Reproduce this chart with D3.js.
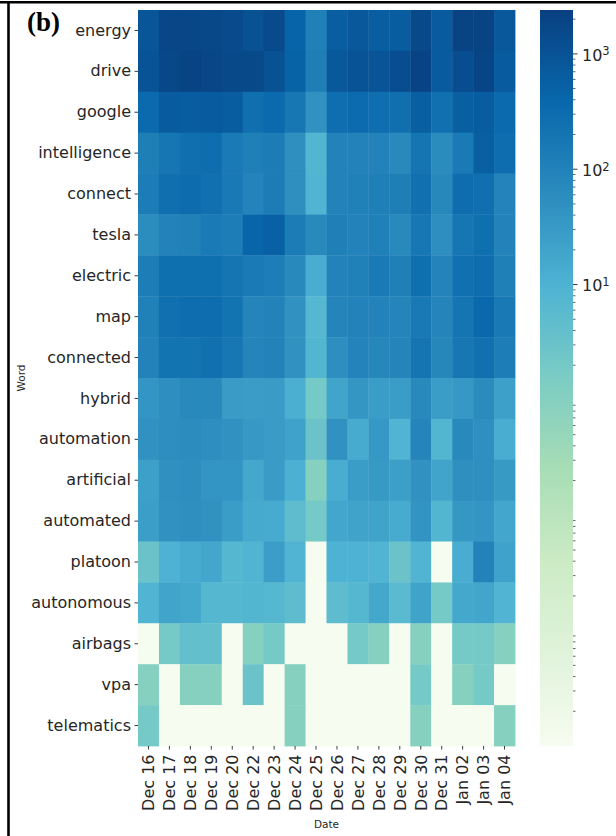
<!DOCTYPE html>
<html>
<head>
<meta charset="utf-8">
<script src="https://cdn.jsdelivr.net/npm/d3@7.9.0/dist/d3.min.js"></script>
<style>
  body { margin: 0; background: #fff; }
  svg { display: block; font-family: "DejaVu Sans", sans-serif; }
</style>
</head>
<body>
<div id="chart"></div>
<script>
// === Data ===
const words = ["energy", "drive", "google", "intelligence", "connect", "tesla", "electric", "map",
    "connected", "hybrid", "automation", "artificial", "automated", "platoon", "autonomous",
    "airbags", "vpa", "telematics"];

const dates = ["Dec 16", "Dec 17", "Dec 18", "Dec 19", "Dec 20", "Dec 22", "Dec 23", "Dec 24", "Dec 25",
    "Dec 26", "Dec 27", "Dec 28", "Dec 29", "Dec 30", "Dec 31", "Jan 02", "Jan 03", "Jan 04"];

// one row per word, one value per date
const counts = [
    [900, 1800, 1800, 1700, 1500, 1100, 1500, 450, 110, 600, 800, 600, 650, 1600, 700, 2100, 2100, 800],
    [1000, 1700, 2100, 1800, 1600, 1600, 1100, 500, 120, 800, 1000, 950, 1300, 2000, 700, 1300, 1900, 700],
    [350, 700, 650, 700, 650, 270, 350, 180, 45, 280, 320, 280, 270, 550, 250, 550, 650, 340],
    [120, 190, 270, 300, 150, 115, 140, 50, 8, 100, 100, 100, 70, 200, 65, 150, 550, 290],
    [140, 270, 310, 250, 160, 95, 135, 50, 9, 100, 110, 115, 120, 250, 75, 300, 270, 95],
    [60, 100, 110, 150, 125, 430, 520, 140, 70, 115, 100, 110, 70, 175, 55, 190, 260, 100],
    [125, 260, 260, 260, 200, 150, 130, 70, 13, 100, 110, 150, 115, 260, 95, 250, 300, 115],
    [110, 250, 300, 300, 210, 85, 100, 45, 7, 85, 100, 100, 85, 160, 85, 200, 370, 160],
    [100, 210, 210, 250, 180, 85, 100, 45, 8, 55, 95, 80, 85, 200, 80, 180, 250, 130],
    [40, 55, 70, 70, 30, 28, 30, 12, 2, 19, 38, 28, 28, 70, 28, 35, 65, 24],
    [45, 55, 60, 55, 45, 35, 30, 22, 3, 45, 14, 35, 9, 85, 8, 70, 52, 13],
    [24, 48, 55, 40, 40, 16, 30, 11, 1, 13, 28, 32, 25, 45, 20, 50, 52, 32],
    [26, 45, 50, 45, 28, 15, 14, 5, 2, 17, 21, 21, 14, 42, 8, 36, 40, 17],
    [3, 10, 14, 17, 7, 9, 26, 9, 0, 10, 10, 9, 3, 9, 0, 13, 100, 22],
    [9, 20, 16, 7, 7, 8, 7, 5, 0, 5, 7, 16, 6, 21, 2, 16, 18, 9],
    [0, 2, 4, 4, 0, 1, 2, 0, 0, 0, 2, 1, 0, 1, 0, 2, 2, 1],
    [1, 0, 1, 1, 0, 3, 0, 1, 0, 0, 0, 0, 0, 2, 0, 1, 2, 0],
    [2, 0, 0, 0, 0, 0, 0, 1, 0, 0, 0, 0, 0, 1, 0, 0, 0, 1]
];

// colour bar range and labelled ticks
const colorMin = 0.001;
const colorMax = 2400;
const colorTicks = [10, 100, 1000];

// GnBu stops (same as matplotlib)
const gnbu = ["#f7fcf0", "#e0f3db", "#ccebc5", "#a8ddb5", "#7bccc4", "#4eb3d3", "#2b8cbe", "#0868ac", "#084081"];

// === Layout ===
const W = 616, H = 836;
const hm = { left: 138, top: 10, right: 515, bottom: 746 };
const cb = { left: 540, right: 573 };
const textColor = "#262626";
const fontFamily = "'DejaVu Sans', sans-serif";
const tickFont = 16;

const svg = d3.select("#chart").append("svg")
    .attr("width", W)
    .attr("height", H);

// === Scales ===
const x = d3.scaleBand().domain(dates).range([hm.left, hm.right]);
const y = d3.scaleBand().domain(words).range([hm.top, hm.bottom]);

const norm = d3.scaleLog().domain([colorMin, colorMax]).range([0, 1]).clamp(true);
const cmap = d3.scaleLinear()
    .domain(d3.range(gnbu.length).map(i => i / (gnbu.length - 1)))
    .range(gnbu)
    .interpolate(d3.interpolateRgb);
const color = v => cmap(v > 0 ? norm(v) : 0);

// === Cells ===
const cells = [];
words.forEach((w, i) => dates.forEach((d, j) => cells.push({ word: w, date: d, value: counts[i][j] })));

svg.append("g").selectAll("rect")
    .data(cells)
    .join("rect")
    .attr("x", d => x(d.date))
    .attr("y", d => y(d.word))
    .attr("width", x.bandwidth() + 0.4)
    .attr("height", y.bandwidth() + 0.4)
    .attr("fill", d => color(d.value));

// === Axes ===
const yAxisG = svg.append("g")
    .attr("transform", `translate(${hm.left},0)`)
    .call(d3.axisLeft(y).tickSize(3.5).tickPadding(3.5))
    .attr("font-family", fontFamily)
    .attr("font-size", tickFont);
yAxisG.select(".domain").remove();
yAxisG.selectAll("line").attr("stroke", textColor).attr("stroke-width", 0.9);
yAxisG.selectAll("text").attr("fill", textColor);

const xAxisG = svg.append("g")
    .attr("transform", `translate(0,${hm.bottom})`)
    .call(d3.axisBottom(x).tickSize(3.5))
    .attr("font-family", fontFamily)
    .attr("font-size", tickFont);
xAxisG.select(".domain").remove();
xAxisG.selectAll("line").attr("stroke", textColor).attr("stroke-width", 0.9);
xAxisG.selectAll("text")
    .attr("fill", textColor)
    .attr("transform", "rotate(-90)")
    .attr("text-anchor", "end")
    .attr("x", -8.5)
    .attr("y", 0)
    .attr("dy", "0.36em");

svg.append("text")
    .attr("x", (hm.left + hm.right) / 2)
    .attr("y", 828)
    .attr("text-anchor", "middle")
    .attr("fill", textColor)
    .style("font-size", "10.5px")
    .text("Date");

svg.append("text")
    .attr("transform", `translate(25,${(hm.top + hm.bottom) / 2}) rotate(-90)`)
    .attr("text-anchor", "middle")
    .attr("fill", textColor)
    .style("font-size", "10.5px")
    .text("Word");

// === Colour bar ===
const grad = svg.append("defs").append("linearGradient")
    .attr("id", "gnbu")
    .attr("x1", 0).attr("y1", 1)
    .attr("x2", 0).attr("y2", 0);
gnbu.forEach((c, i) => grad.append("stop")
    .attr("offset", i / (gnbu.length - 1))
    .attr("stop-color", c));

const cbScale = d3.scaleLog().domain([colorMin, colorMax]).range([hm.bottom, hm.top]);

svg.append("rect")
    .attr("x", cb.left)
    .attr("y", hm.top)
    .attr("width", cb.right - cb.left)
    .attr("height", hm.bottom - hm.top)
    .attr("fill", "url(#gnbu)");

// minor ticks 2..9 of each decade
const minorTicks = [];
for (let e = -3; e <= 3; e++) {
    for (let k = 2; k <= 9; k++) {
        const v = k * Math.pow(10, e);
        if (v > colorMin && v < colorMax) minorTicks.push(v);
    }
}

svg.append("g").selectAll("line")
    .data(minorTicks)
    .join("line")
    .attr("x1", cb.right).attr("x2", cb.right + 2.5)
    .attr("y1", d => cbScale(d)).attr("y2", d => cbScale(d))
    .attr("stroke", textColor)
    .attr("stroke-width", 0.7);

const majorG = svg.append("g").selectAll("g")
    .data(colorTicks)
    .join("g")
    .attr("transform", d => `translate(${cb.right},${cbScale(d)})`);

majorG.append("line")
    .attr("x2", 4.5)
    .attr("stroke", textColor)
    .attr("stroke-width", 0.9);

const lbl = majorG.append("text")
    .attr("x", 9)
    .attr("dy", "0.42em")
    .attr("fill", textColor)
    .style("font-size", "16px");
lbl.append("tspan").text("10");
lbl.append("tspan")
    .attr("dy", "-0.45em")
    .style("font-size", "11.5px")
    .text(d => Math.round(Math.log10(d)));

// === Frame and panel label ===
svg.append("line")
    .attr("x1", 0).attr("x2", W)
    .attr("y1", 2.2).attr("y2", 2.2)
    .attr("stroke", "#000")
    .attr("stroke-width", 2.6);
svg.append("line")
    .attr("x1", 8.5).attr("x2", 8.5)
    .attr("y1", 1).attr("y2", H)
    .attr("stroke", "#000")
    .attr("stroke-width", 2.6);

svg.append("text")
    .attr("x", 27)
    .attr("y", 31)
    .attr("fill", "#000")
    .style("font-family", "'Liberation Serif', serif")
    .style("font-weight", "bold")
    .style("font-size", "27px")
    .text("(b)");
</script>
</body>
</html>
